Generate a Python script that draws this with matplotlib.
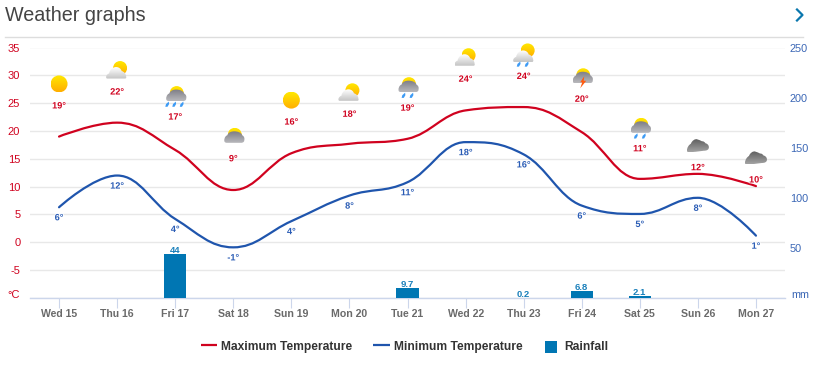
import matplotlib
matplotlib.use("Agg")
import matplotlib.pyplot as plt
import matplotlib.patheffects as pe
import numpy as np
from matplotlib.lines import Line2D
from matplotlib.patches import PathPatch, Rectangle, Polygon
from matplotlib.path import Path
from matplotlib.colors import LinearSegmentedColormap
from matplotlib.legend_handler import HandlerPatch
from matplotlib.transforms import ScaledTranslation

# ---------- data ----------
days = ["Wed 15", "Thu 16", "Fri 17", "Sat 18", "Sun 19", "Mon 20", "Tue 21",
        "Wed 22", "Thu 23", "Fri 24", "Sat 25", "Sun 26", "Mon 27"]
max_temp = [19.0, 21.5, 16.6, 9.4, 16.0, 17.7, 18.6, 23.7, 24.3, 19.8, 11.4, 12.3, 10.1]
min_temp = [6.3, 12.0, 4.2, -0.9, 3.8, 8.4, 10.8, 18.0, 15.8, 6.6, 5.1, 8.0, 1.2]
max_labels = ["19°", "22°", "17°", "9°", "16°", "18°", "19°", "24°", "24°", "20°", "11°", "12°", "10°"]
min_labels = ["6°", "12°", "4°", "-1°", "4°", "8°", "11°", "18°", "16°", "6°", "5°", "8°", "1°"]
forecast_level = [24.5, 27.0, 22.5, 15.0, 21.6, 23.0, 24.1, 29.3, 29.8, 25.7, 16.8, 13.4, 11.2]
conditions = ["sun", "partly", "rain3", "overcast", "sun", "partly", "rain2", "partly",
              "lightrain", "storm", "rain2", "cloud", "cloud"]
rain_days = [2, 6, 8, 9, 10]
rain_mm = [44, 9.7, 0.2, 6.8, 2.1]
rain_labels = ["44", "9.7", "0.2", "6.8", "2.1"]
temp_ticks = [-10, -5, 0, 5, 10, 15, 20, 25, 30, 35]
temp_tick_labels = ["°C", "-5", "0", "5", "10", "15", "20", "25", "30", "35"]
rain_ticks = [0, 50, 100, 150, 200, 250]
rain_tick_labels = ["mm", "50", "100", "150", "200", "250"]

# ---------- style ----------
RED = "#d0021f"
BLUE = "#1f55ad"
BAR = "#0076b3"
W, H = 820, 367
plt.rcParams["font.family"] = ["Liberation Sans", "DejaVu Sans"]

fig = plt.figure(figsize=(W / 100, H / 100), dpi=100)
rect = [30 / W, 1 - 298 / H, 755 / W, 250.5 / H]

# ---------- overlay in pixels, for header and icons ----------
ov = fig.add_axes([0, 0, 1, 1], zorder=5)
ov.patch.set_alpha(0)
ov.axis("off")

# ---------- temperature axis with grid ----------
ax = fig.add_axes(rect, zorder=1)
ax.set_xlim(-0.5, 12.5)
ax.set_ylim(-10, 35)
ax.set_yticks(temp_ticks, temp_tick_labels)
ax.grid(axis="y", color="#e8e8e8", lw=1)
ax.set_axisbelow(True)
for s in ["top", "left", "right"]:
    ax.spines[s].set_visible(False)
ax.spines["bottom"].set_color("#ccd6eb")
ax.spines["bottom"].set_linewidth(1)
ax.set_xticks(range(len(days)), days)
ax.tick_params(axis="x", length=7.2, width=0.8, color="#ccd6eb", pad=1.0,
               labelsize=7.6, labelcolor="#6a6a6a")
for t in ax.get_xticklabels():
    t.set_fontweight("bold")
ax.tick_params(axis="y", length=0, pad=7, labelsize=8, labelcolor=RED)
for t in ax.get_yticklabels():
    if t.get_text() == "°C":
        t.set_transform(t.get_transform() + ScaledTranslation(0, 4 / 100, fig.dpi_scale_trans))

# ---------- rainfall axis ----------
ax2 = fig.add_axes(rect, zorder=2, sharex=ax)
ax2.patch.set_alpha(0)
ax2.set_ylim(0, 250)
for s in ax2.spines.values():
    s.set_visible(False)
ax2.yaxis.tick_right()
ax2.set_yticks(rain_ticks, rain_tick_labels)
ax2.tick_params(axis="y", length=0, pad=3.4, labelsize=7.8, labelcolor="#3a66b5")
ax2.tick_params(axis="x", length=0, labelbottom=False)
for t in ax2.get_yticklabels():
    if t.get_text() == "mm":
        t.set_transform(t.get_transform() + ScaledTranslation(2 / 100, 4 / 100, fig.dpi_scale_trans))
ax2.bar(rain_days, rain_mm, width=0.38, color=BAR, linewidth=0)
for x, v, s in zip(rain_days, rain_mm, rain_labels):
    ax2.annotate(s, (x, v), xytext=(0, -0.6), textcoords="offset points", ha="center", va="bottom",
                 fontsize=6.8, fontweight="bold", color="#1a80bb")

# ---------- temperature lines ----------
ax3 = fig.add_axes(rect, zorder=3, sharex=ax)
ax3.patch.set_alpha(0)
ax3.set_ylim(-10, 35)
ax3.axis("off")


def spline_path(xs, ys):
    """Bezier path through the points, built with the usual chart spline rule."""
    n = len(xs)
    left = [None] * n
    right = [None] * n
    k = 1.5
    for i in range(1, n - 1):
        x, y = xs[i], ys[i]
        lx = (k * x + xs[i - 1]) / (k + 1)
        ly = (k * y + ys[i - 1]) / (k + 1)
        rx = (k * x + xs[i + 1]) / (k + 1)
        ry = (k * y + ys[i + 1]) / (k + 1)
        c = (ry - ly) * (rx - x) / (rx - lx) + y - ry
        ly += c
        ry += c
        if ly > ys[i - 1] and ly > y:
            ly = max(ys[i - 1], y)
            ry = 2 * y - ly
        elif ly < ys[i - 1] and ly < y:
            ly = min(ys[i - 1], y)
            ry = 2 * y - ly
        if ry > ys[i + 1] and ry > y:
            ry = max(ys[i + 1], y)
            ly = 2 * y - ry
        elif ry < ys[i + 1] and ry < y:
            ry = min(ys[i + 1], y)
            ly = 2 * y - ry
        left[i] = (lx, ly)
        right[i] = (rx, ry)
    verts = [(xs[0], ys[0])]
    codes = [Path.MOVETO]
    for i in range(1, n):
        verts += [right[i - 1] or (xs[i - 1], ys[i - 1]), left[i] or (xs[i], ys[i]), (xs[i], ys[i])]
        codes += [Path.CURVE4] * 3
    return Path(verts, codes)


xs = list(range(len(days)))
for series, col in ((max_temp, RED), (min_temp, BLUE)):
    ax3.add_patch(PathPatch(spline_path(xs, series), fc="none", ec=col, lw=1.6, capstyle="round"))

halo = [pe.withStroke(linewidth=1.2, foreground="white")]
for x, lev, s in zip(xs, forecast_level, max_labels):
    ax3.text(x, lev, s, ha="center", va="center", fontsize=6.6, fontweight="bold", color=RED, path_effects=halo)
for x, v, s in zip(xs, min_temp, min_labels):
    ax3.annotate(s, (x, v), xytext=(0, -7.6), textcoords="offset points", ha="center", va="center",
                 fontsize=6.6, fontweight="bold", color="#2a5cb5", path_effects=halo)


# ---------- weather icons ----------
def gradient(name, top, bottom):
    return LinearSegmentedColormap.from_list(name, [top, bottom])


SUN_CM = gradient("sun", "#ffe800", "#ffae00")
LIGHT_CM = gradient("light", "#ffffff", "#c4c4c4")
DARK_CM = gradient("dark", "#7d7d85", "#b8b8bc")
STORM_CM = gradient("cloud", "#5a5a5a", "#a2a2a2")
RAMP = np.linspace(0, 1, 32).reshape(-1, 1)


def fill_path(path, cmap):
    ext = path.get_extents()
    im = ov.imshow(RAMP, cmap=cmap, aspect="auto", interpolation="bilinear",
                   extent=(ext.x0, ext.x1, ext.y1, ext.y0), zorder=2)
    im.set_clip_path(PathPatch(path, transform=ov.transData))


def disc(cx, cy, r, cmap):
    p = Path.unit_circle()
    fill_path(Path(p.vertices * r + [cx, cy], p.codes), cmap)


def outline(start, *curves):
    """Closed shape from a start point and cubic Bezier triples."""
    verts = [start]
    codes = [Path.MOVETO]
    for c in curves:
        verts += list(c)
        codes += [Path.CURVE4] * 3
    verts.append(start)
    codes.append(Path.CLOSEPOLY)
    return Path(verts, codes)


DARK_SHAPE = outline((-10, 3),
                     [(-10, 0), (-8, -2), (-7, -2)],
                     [(-6, -5), (-3, -6), (0, -6)],
                     [(3, -6), (7, -5), (8, -2)],
                     [(10, -1), (10.5, 1), (10, 3)],
                     [(10, 5), (8, 5.5), (7, 5.5)],
                     [(2, 5.5), (-3, 5.5), (-7, 5.5)],
                     [(-9, 5.5), (-10, 5), (-10, 3)])
LIGHT_SHAPE = outline((-10, 4.5),
                      [(-10, 2.5), (-8, 1), (-7, 1)],
                      [(-6.5, -3), (-3, -5.5), (0, -5.5)],
                      [(3, -5.5), (5, -3.5), (5.5, -1.5)],
                      [(8, -1), (10, 1.5), (10, 4)],
                      [(10.5, 5), (10, 6), (9, 6)],
                      [(3, 6), (-4, 6), (-9, 6)],
                      [(-9.5, 6), (-10, 5.5), (-10, 4.5)])
HEAVY_SHAPE = outline((-11, 5),
                      [(-11, 2), (-9, -1), (-7, -2)],
                      [(-6, -5), (-3, -7), (-1, -6.5)],
                      [(1, -6), (3, -5), (4, -4.5)],
                      [(6, -4.5), (7, -3.5), (7.5, -2.5)],
                      [(10, -2), (11, 0), (11, 1.5)],
                      [(11, 4), (9, 5), (6, 5)],
                      [(1, 5.5), (-5, 6.5), (-8, 6.5)],
                      [(-10, 6.5), (-11, 6), (-11, 5)])


def cloud(cx, cy, shape, cmap):
    fill_path(Path(shape.vertices + [cx, cy], shape.codes), cmap)


def drops(cx, cy, offsets):
    for d in offsets:
        ov.add_patch(Polygon([(cx + d + 1.6, cy), (cx + d - 1.2, cy + 2.5), (cx + d - 1.9, cy + 5.2),
                              (cx + d + 0.3, cy + 5.2), (cx + d + 1.9, cy + 2.5)],
                             closed=True, fc="#3d9bf5", ec="none", zorder=3))


def icon(kind, cx, cy):
    if kind == "sun":
        disc(cx, cy, 8.5, SUN_CM)
    elif kind == "partly":
        disc(cx + 3, cy - 2, 7, SUN_CM)
        cloud(cx - 1, cy + 2.5, LIGHT_SHAPE, LIGHT_CM)
    elif kind == "lightrain":
        disc(cx + 4, cy - 4, 7, SUN_CM)
        drops(cx - 0.5, cy + 7, [-4.5, 3.5])
        cloud(cx - 0.5, cy + 1.5, LIGHT_SHAPE, LIGHT_CM)
    elif kind in ("overcast", "rain2", "rain3", "storm"):
        disc(cx + 1.5, cy - 2, 7, SUN_CM)
        cloud(cx + 1, cy + 0.5, DARK_SHAPE, DARK_CM)
        if kind == "rain2":
            drops(cx, cy + 6.5, [-4, 4])
        elif kind == "rain3":
            drops(cx, cy + 6.5, [-8, -1, 6.5])
        elif kind == "storm":
            ov.add_patch(Polygon([(cx + 2.5, cy - 1), (cx - 1.5, cy + 5), (cx + 0.5, cy + 5), (cx - 1.5, cy + 11),
                                  (cx + 4.5, cy + 3.5), (cx + 2, cy + 3.5)],
                                 closed=True, fc="#ff5a10", ec="none", zorder=3))
    else:
        cloud(cx, cy, HEAVY_SHAPE, STORM_CM)


for x, lev, kind in zip(xs, forecast_level, conditions):
    px, py = ax3.transData.transform((x, lev))
    icon(kind, px, H - py - 22)

# ---------- header ----------
ov.text(5, 15.5, "Weather graphs", fontsize=14.2, color="#444444", va="center", ha="left")
ov.add_line(Line2D([5, 803], [37, 37], color="#dddddd", lw=1))
ov.add_line(Line2D([797, 802.5, 797], [9.5, 15, 20.5], color="#0a77ae", lw=1.6))
ov.set_xlim(0, W)
ov.set_ylim(H, 0)


# ---------- legend ----------
def small_square(legend, orig_handle, xdescent, ydescent, width, height, fontsize):
    return Rectangle((xdescent + 1.0, ydescent - 2.2), 8.6, 8.6)


handles = [Line2D([], [], color=RED, lw=1.6, solid_capstyle="butt"),
           Line2D([], [], color=BLUE, lw=1.6, solid_capstyle="butt"),
           Rectangle((0, 0), 1, 1, fc=BAR, ec="none")]
leg = fig.legend(handles, ["Maximum Temperature", "Minimum Temperature", "Rainfall"],
                 loc="center", bbox_to_anchor=(404.5 / W, 1 - 346.6 / H), ncol=3, frameon=False,
                 prop={"family": "Liberation Sans", "weight": "bold", "size": 8.65},
                 handlelength=1.34, handletextpad=0.36, columnspacing=1.76, borderpad=0,
                 handler_map={Rectangle: HandlerPatch(patch_func=small_square)})
for t in leg.get_texts():
    t.set_color("#333333")

fig.savefig("out.png", dpi=100)
